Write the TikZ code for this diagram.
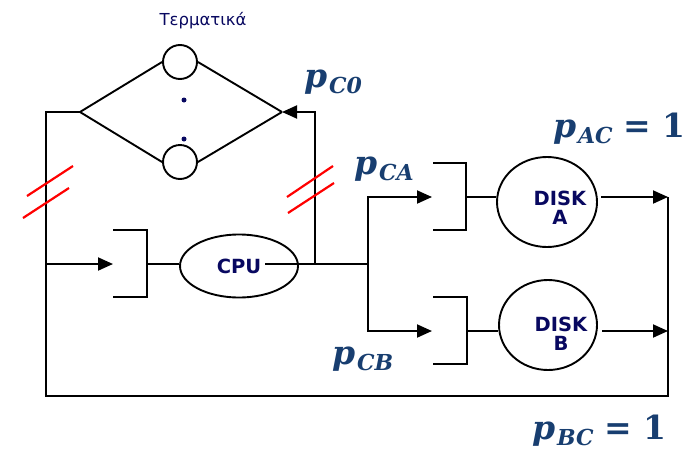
\documentclass[tikz,border=0pt]{standalone}
\usepackage{fontspec}
\usetikzlibrary{arrows.meta,shapes.geometric}
\newfontfamily\dvs{DejaVu Sans}
\newfontfamily\dser{DejaVu Serif}
\definecolor{lblblue}{RGB}{24,62,112}
\definecolor{txtnavy}{RGB}{8,8,96}
\newcommand\plbl[1]{{\fontsize{33}{36}\selectfont\dser\bfseries\itshape p}\kern1pt\raisebox{-6pt}{\fontsize{22}{24}\selectfont\dser\bfseries\itshape #1}}
\newcommand\eqone{\hspace{11pt}{\fontsize{33}{36}\selectfont\dser\bfseries =}\hspace{11pt}{\fontsize{33}{36}\selectfont\dser\bfseries 1}}
\begin{document}
\begin{tikzpicture}[x=1pt,y=-1pt,line width=1.9pt,
  conn/.style={draw=black,line width=1.9pt},
  arr/.style={conn,-{Triangle[length=15pt,width=13pt]}},
  slash/.style={draw=red,line width=2.2pt},
  term/.style={circle,draw,line width=1.9pt,minimum size=34pt,inner sep=0pt},
  proc/.style={ellipse,draw,line width=1.9pt,inner sep=0pt},
  ptxt/.style={font=\dvs\bfseries\fontsize{19.5}{21}\selectfont,text=txtnavy,align=center},
  prob/.style={text=lblblue,inner sep=0pt,anchor=base west}]
\useasboundingbox (0,0) rectangle (695,450);
% terminals
\node[font=\dvs\fontsize{16.5}{18}\selectfont,text=txtnavy] (termlbl) at (203,21) {Τερματικά};
\node[term] (t1) at (180,62) {};
\node[term] (t2) at (180,162) {};
\coordinate (dl) at (80,112);
\coordinate (dr) at (282,112);
\draw[conn] (dl) -- (t1.west) (t1.east) -- (dr);
\draw[conn] (dl) -- (t2.west) (t2.east) -- (dr);
\node[circle,fill=txtnavy,inner sep=0pt,minimum size=5pt] (dot1) at (184,100) {};
\node[circle,fill=txtnavy,inner sep=0pt,minimum size=5pt] (dot2) at (184,139) {};
% CPU queue
\coordinate (cin) at (46,264);
\coordinate (qct) at (113,230);
\coordinate (qcm) at (147,264);
\coordinate (qcb) at (113,297);
\draw[conn] (qct) -- (147,230) -- (147,297) -- (qcb);
\draw[arr] (cin) -- (113,264);
\node[proc,minimum width=118pt,minimum height=63pt] (cpu) at (239,266) {};
\node[ptxt] (cputxt) at (239,266) {CPU};
\draw[conn] (qcm) -- (qcm -| cpu.west);
\coordinate (cpuout) at (265,264);
\coordinate (j1) at (315,264);
\coordinate (split) at (368,264);
\draw[conn] (cpuout) -- (split);
\draw[arr] (j1) |- (dr);
% split
\coordinate (sa) at (368,197);
\coordinate (sb) at (368,331);
\draw[arr] (split) -- (sa) -- (432,197);
\draw[arr] (split) -- (sb) -- (432,331);
% disk A
\draw[conn] (433,163) -- (466,163) -- (466,230) -- (433,230);
\coordinate (qam) at (466,197);
\node[proc,minimum width=100pt,minimum height=90pt] (diskA) at (547,202) {};
\node[ptxt] (dAtxt) at (560,208) {DISK\\[-2pt]A};
\draw[conn] (qam) -- (qam -| diskA.west);
% disk B
\draw[conn] (433,297) -- (467,297) -- (467,364) -- (433,364);
\coordinate (qbm) at (467,331);
\node[proc,minimum width=98pt,minimum height=90pt] (diskB) at (548,325) {};
\node[ptxt] (dBtxt) at (561,334) {DISK\\[-2pt]B};
\draw[conn] (qbm) -- (qbm -| diskB.west);
% outputs and loop
\coordinate (ra) at (668,197);
\coordinate (rb) at (668,331);
\coordinate (rbot) at (668,396);
\coordinate (lbot) at (46,396);
\coordinate (ltop) at (46,112);
\draw[arr] (601,197) -- (ra);
\draw[arr] (602,331) -- (rb);
\draw[conn] (ra) -- (rbot) -- (lbot) -- (ltop) -- (dl);
% red slashes
\draw[slash] (27,196) -- (73,166);
\draw[slash] (23,218) -- (69,188);
\draw[slash] (287,197) -- (333,166);
\draw[slash] (288,213) -- (334,183);
% probabilities
\node[prob] (pc0) at (304,87) {\plbl{C0}};
\node[prob] (pca) at (354,174) {\plbl{CA}};
\node[prob] (pac) at (553,137) {\plbl{AC}\eqone};
\node[prob] (pcb) at (332,364) {\plbl{CB}};
\node[prob] (pbc) at (532,439) {\plbl{BC}\eqone};
\end{tikzpicture}
\end{document}
